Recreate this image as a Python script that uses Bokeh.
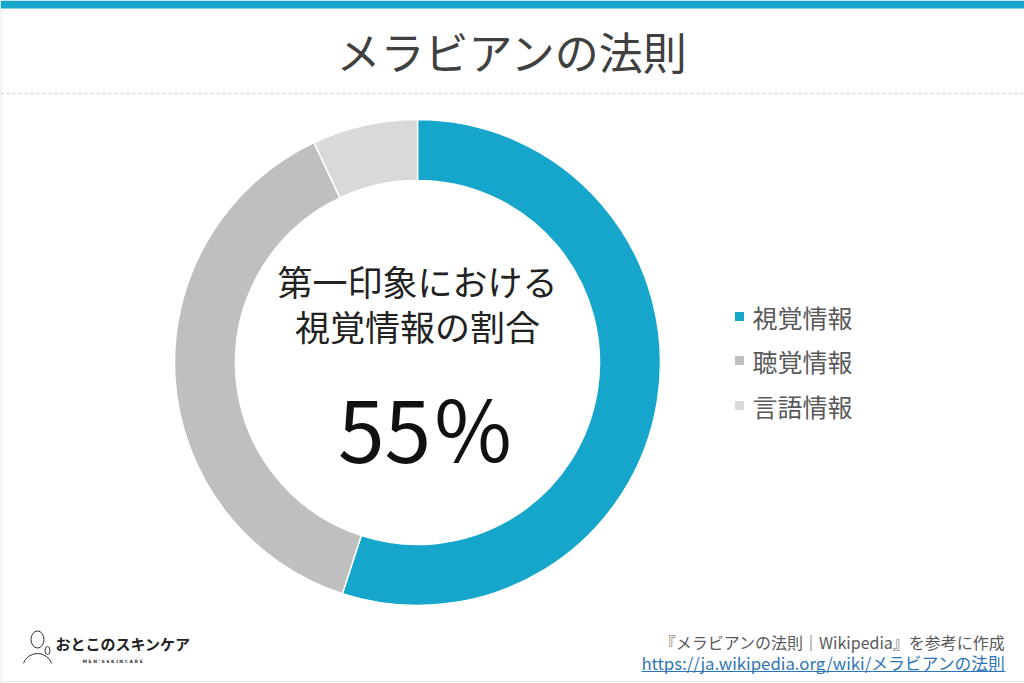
import numpy as np
from bokeh.plotting import figure
from bokeh.models import Range1d
from bokeh.core.properties import value
from bokeh.embed import file_html
from bokeh.resources import INLINE

# ---- data ----
categories = ["視覚情報", "聴覚情報", "言語情報"]
shares = [55, 38, 7]
colors = ["#16A6CC", "#BFBFBF", "#D9D9D9"]
title_text = "メラビアンの法則"
center_lines = ["第一印象における", "視覚情報の割合"]
center_value = "55％"
source_line = "『メラビアンの法則｜Wikipedia』を参考に作成"
source_url = "https://ja.wikipedia.org/wiki/メラビアンの法則"
logo_text = "おとこのスキンケア"
logo_sub = "M E N ' S   S K I N C A R E"

W, H = 1024, 683
JP = value("Noto Sans CJK JP")

p = figure(width=W, height=H, output_backend="svg", toolbar_location=None,
           x_range=Range1d(0, W), y_range=Range1d(0, H), min_border=0)
p.axis.visible = False
p.grid.visible = False
p.outline_line_color = None
p.background_fill_color = "white"
p.border_fill_color = "white"

def Y(py):
    return H - py

# frame decorations
p.quad(left=0, right=W, top=Y(0), bottom=Y(8), fill_color="#16A6CC", line_color=None)
p.segment(x0=0, y0=Y(93), x1=W, y1=Y(93), line_color="#CCCCCC", line_dash="3 3", line_width=1)
p.segment(x0=0.5, y0=Y(8), x1=0.5, y1=Y(683), line_color="#DDDDDD", line_width=1)
p.segment(x0=0, y0=Y(681), x1=W, y1=Y(681), line_color="#E5E5E5", line_width=1)

# title
p.text(x=[512], y=[Y(50)], text=[title_text], text_align="center", text_baseline="middle",
       text_font=JP, text_font_size="44px", text_color="#404040")

# donut
cx, cy = 417, Y(362)
frac = np.array(shares, dtype=float) / sum(shares)
cum = np.concatenate([[0], np.cumsum(frac)])
starts = np.pi / 2 - 2 * np.pi * cum[:-1]
ends = np.pi / 2 - 2 * np.pi * cum[1:]
p.annular_wedge(x=[cx] * len(shares), y=[cy] * len(shares), inner_radius=182, outer_radius=243,
                start_angle=list(starts), end_angle=list(ends), direction="clock",
                fill_color=colors, line_color="white", line_width=1.5)

# center text
p.text(x=[417, 417], y=[Y(280), Y(325)], text=center_lines, text_align="center",
       text_baseline="middle", text_font=JP, text_font_size="35px", text_color="#222222")
p.text(x=[426], y=[Y(426)], text=[center_value], text_align="center", text_baseline="middle",
       text_font=JP, text_font_size="84px", text_color="#111111")

# legend
ly = [Y(316), Y(360), Y(405)]
p.rect(x=[739] * 3, y=ly, width=9, height=9, fill_color=colors, line_color=None)
p.text(x=[752] * 3, y=ly, text=categories, text_align="left", text_baseline="middle",
       text_font=JP, text_font_size="25px", text_color="#595959")

# source
p.text(x=[1005], y=[Y(641)], text=[source_line], text_align="right", text_baseline="middle",
       text_font=JP, text_font_size="16px", text_color="#595959")
p.text(x=[1005], y=[Y(662)], text=[source_url], text_align="right", text_baseline="middle",
       text_font=JP, text_font_size="16.8px", text_color="#2E75B6")
p.segment(x0=641, y0=Y(671), x1=1005, y1=Y(671), line_color="#2E75B6", line_width=1)

# logo
p.text(x=[55], y=[Y(643)], text=[logo_text], text_align="left", text_baseline="middle",
       text_font=JP, text_font_size="15px", text_font_style="bold", text_color="#222222")
p.text(x=[82], y=[Y(661)], text=[logo_sub], text_align="left", text_baseline="middle",
       text_font=value("DejaVu Sans"), text_font_size="4.5px", text_font_style="bold", text_color="#333333")
# simple sketched figure icon
p.ellipse(x=[37], y=[Y(639)], width=13, height=17, fill_color=None, line_color="#333333", line_width=1)
p.arc(x=[37], y=[Y(668)], radius=15, start_angle=0.35, end_angle=np.pi - 0.35,
      line_color="#333333", line_width=1)
p.ellipse(x=[47], y=[Y(650)], width=5, height=8, fill_color=None, line_color="#333333", line_width=1)

open("out.html", "w").write(file_html(p, INLINE))
